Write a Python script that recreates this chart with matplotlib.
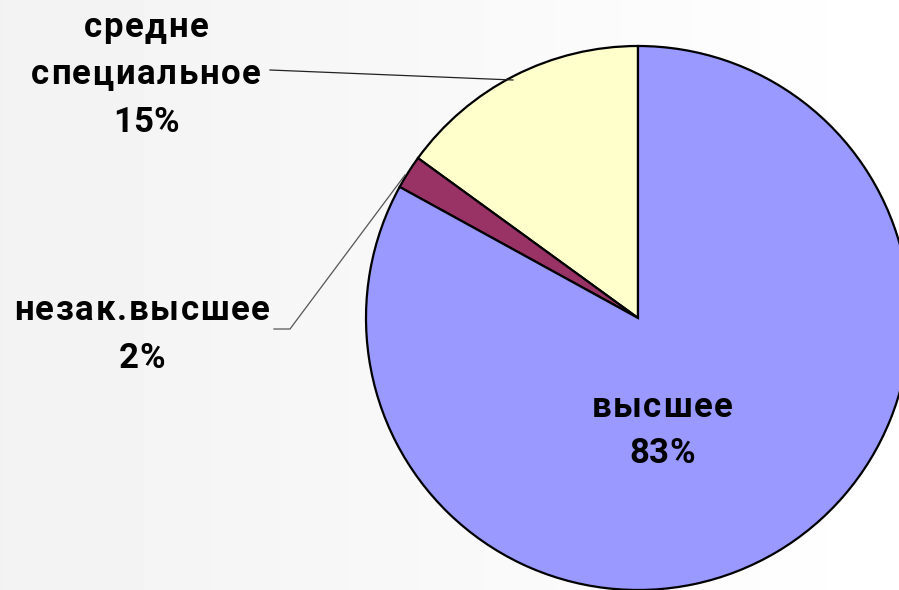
import matplotlib
matplotlib.use("Agg")
import matplotlib.pyplot as plt
import numpy as np

# ---- data ----
categories = ["средне\nспециальное", "незак.высшее", "высшее"]
values = [15, 2, 83]
colors = ["#ffffcc", "#993366", "#9999ff"]

W, H = 899, 590
fig = plt.figure(figsize=(W / 100, H / 100), dpi=100)
ax = fig.add_axes([0, 0, 1, 1])
ax.set_xlim(0, W)
ax.set_ylim(0, H)
ax.axis("off")

# background gradient
grad = np.linspace(242, 255, 256) / 255.0
img = np.tile(grad, (2, 1))
ax.imshow(img, cmap="gray", vmin=0, vmax=1, extent=[0, W, 0, H], aspect="auto", zorder=0)

center = (638, H - 318)
radius = 272
ax.pie(values, colors=colors, startangle=90, counterclock=True, radius=radius,
       center=center, frame=True,
       wedgeprops=dict(edgecolor="black", linewidth=1.6, zorder=2))
ax.set_xlim(0, W)
ax.set_ylim(0, H)
ax.axis("off")

renderer = fig.canvas.get_renderer()
FS = 25


def spaced_line(x, y, s, sp, color="black"):
    widths = []
    for ch in s:
        t = ax.text(0, 0, ch, fontsize=FS, fontweight="bold", family="Roboto")
        widths.append(t.get_window_extent(renderer).width)
        t.remove()
    total = sum(widths) + sp * (len(s) - 1)
    cx = x - total / 2
    for ch, w in zip(s, widths):
        ax.text(cx, y, ch, fontsize=FS, fontweight="bold", family="Roboto",
                ha="left", va="baseline", color=color, zorder=5)
        cx += w + sp


def label(x, y_top_baseline, lines, step=47.5):
    for i, ln in enumerate(lines):
        sp = 0.0 if ln.endswith("%") else 1.7
        spaced_line(x, H - (y_top_baseline + i * step), ln, sp)


pct = [f"{v}%" for v in values]
label(146, 37, categories[0].split("\n") + [pct[0]])
label(142, 320, categories[1].split("\n") + [pct[1]])
label(662, 417, categories[2].split("\n") + [pct[2]], step=46)

# leader lines
ax.plot([270, 513], [H - 70, H - 80], color="#222222", lw=0.9, zorder=3)
ax.plot([274, 290, 405], [H - 329, H - 329, H - 175], color="#555555", lw=0.9, zorder=3)

fig.savefig("out.png", dpi=100)
